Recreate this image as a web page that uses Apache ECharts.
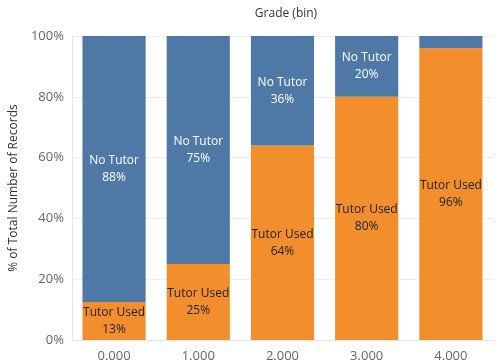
<!DOCTYPE html>
<html><head><meta charset="utf-8">
<script src="https://cdn.jsdelivr.net/npm/echarts@6/dist/echarts.min.js"></script>
<style>html,body{margin:0;padding:0;background:#fff}#c{width:496px;height:364px}</style>
</head><body><div id="c"></div>
<script>
var categories = ['0.000', '1.000', '2.000', '3.000', '4.000'];
var tutorUsed = [12.5, 25, 64, 80, 96];
var noTutor = [87.5, 75, 36, 20, 4];
var yTicks = [0, 20, 40, 60, 80, 100];

var font = '"Open Sans", "Noto Sans", sans-serif';
var chart = echarts.init(document.getElementById('c'));
chart.setOption({
  animation: false,
  textStyle: { fontFamily: font },
  title: {
    text: 'Grade (bin)', left: 281, top: 3, textAlign: 'center',
    textStyle: { fontSize: 12, fontWeight: 'normal', color: '#333', fontFamily: font }
  },
  grid: { left: 68, right: 3, top: 36, bottom: 24 },
  xAxis: {
    type: 'category', data: categories,
    axisLine: { show: true, lineStyle: { color: '#e6e6e6' } },
    axisTick: { show: false },
    axisLabel: { color: '#666', fontSize: 13, margin: 10, fontFamily: font }
  },
  yAxis: {
    type: 'value', min: 0, max: 100, interval: 20,
    name: '% of Total Number of Records', nameLocation: 'middle', nameGap: 51,
    nameTextStyle: { color: '#333', fontSize: 12, fontFamily: font },
    axisLine: { show: true, lineStyle: { color: '#e6e6e6' } },
    axisTick: { show: false },
    splitLine: { lineStyle: { color: '#ececec' } },
    axisLabel: { color: '#666', fontSize: 13, margin: 8, fontFamily: font,
      formatter: function (v) { return yTicks.indexOf(v) >= 0 ? v + '%' : ''; } }
  },
  series: [
    {
      name: 'Tutor Used', type: 'bar', stack: 's', data: tutorUsed,
      barCategoryGap: '25%',
      itemStyle: { color: '#f28e2b' },
      label: { show: true, position: 'inside', color: '#222', fontSize: 12, lineHeight: 17, fontFamily: font,
        formatter: function (p) { return 'Tutor Used\n' + Math.round(p.value) + '%'; } }
    },
    {
      name: 'No Tutor', type: 'bar', stack: 's', data: noTutor,
      itemStyle: { color: '#4e79a7' },
      label: { show: true, position: 'inside', color: '#fff', fontSize: 12, lineHeight: 17, fontFamily: font,
        formatter: function (p) { return p.value < 10 ? '' : 'No Tutor\n' + Math.round(p.value) + '%'; } }
    }
  ]
});
</script></body></html>
